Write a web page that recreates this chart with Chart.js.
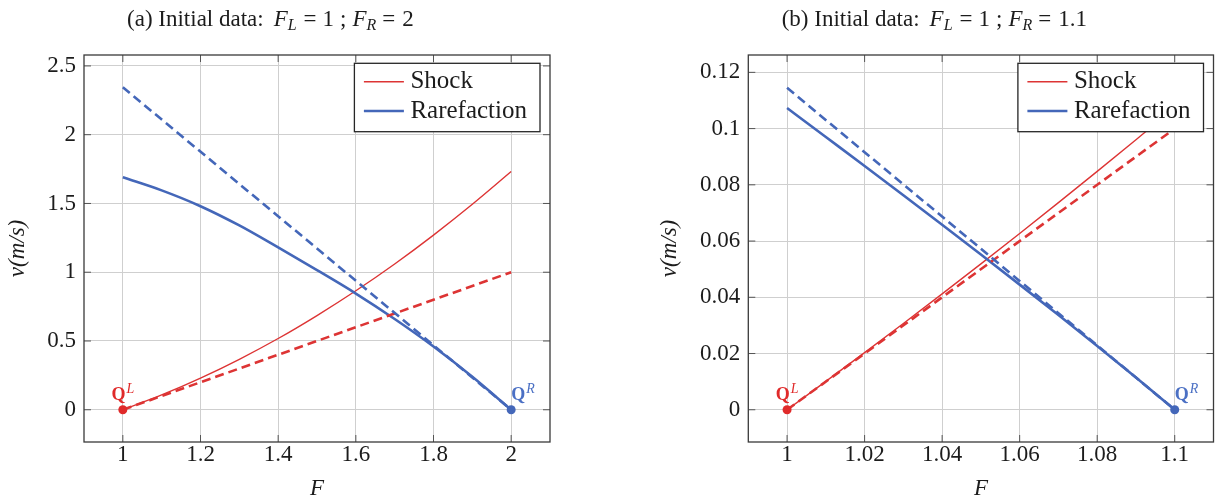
<!DOCTYPE html>
<html><head><meta charset="utf-8">
<script src="https://cdn.jsdelivr.net/npm/chart.js@4.4.1/dist/chart.umd.min.js"></script>
<style>
html,body{margin:0;padding:0;background:#fff;overflow:hidden;width:1218px;height:495px}
.w{position:absolute;top:0;width:609px;height:495px}
#wa{left:0}
#wb{left:609px}
canvas{display:block}
</style></head><body>
<div class="w" id="wa"><canvas id="ca" width="609" height="495" style="width:609px;height:495px"></canvas></div>
<div class="w" id="wb"><canvas id="cb" width="609" height="495" style="width:609px;height:495px"></canvas></div>
<script>
// ---------- Panel (a): F_L = 1 ; F_R = 2 ----------
const aF        = [1.0, 1.1, 1.2, 1.3, 1.4, 1.5, 1.6, 1.7, 1.8, 1.9, 2.0];
const aShock    = [0, 0.1075, 0.230, 0.367, 0.518, 0.685, 0.865, 1.060, 1.270, 1.494, 1.732];
const aRare     = [1.69, 1.595, 1.48, 1.34, 1.18, 1.015, 0.845, 0.66, 0.46, 0.24, 0];
const aTanF     = [1, 2];
const aShockTan = [0, 1.0];
const aRareTan  = [2.345, 0];
const aXTicks   = [1, 1.2, 1.4, 1.6, 1.8, 2];
const aXLabels  = ['1', '1.2', '1.4', '1.6', '1.8', '2'];
const aYTicks   = [0, 0.5, 1, 1.5, 2, 2.5];
const aYLabels  = ['0', '0.5', '1', '1.5', '2', '2.5'];

// ---------- Panel (b): F_L = 1 ; F_R = 1.1 ----------
const bF        = [1.00, 1.01, 1.02, 1.03, 1.04, 1.05, 1.06, 1.07, 1.08, 1.09, 1.10];
const bShock    = [0, 0.01008, 0.02030, 0.03067, 0.04120, 0.05187, 0.06269, 0.07366, 0.08479, 0.09605, 0.1075];
const bRare     = [0.1073, 0.0970, 0.0867, 0.0763, 0.0658, 0.0552, 0.0445, 0.0337, 0.0227, 0.0115, 0];
const bTanF     = [1, 1.1];
const bShockTan = [0, 0.1];
const bRareTan  = [0.1145, 0];
const bXTicks   = [1, 1.02, 1.04, 1.06, 1.08, 1.1];
const bXLabels  = ['1', '1.02', '1.04', '1.06', '1.08', '1.1'];
const bYTicks   = [0, 0.02, 0.04, 0.06, 0.08, 0.1, 0.12];
const bYLabels  = ['0', '0.02', '0.04', '0.06', '0.08', '0.1', '0.12'];

const RED = '#dd3434', BLUE = '#4467b9', QRED = '#e02a2a', QBLUE = '#4b70c4';
const TXT = '#1c1c1c', GRID = '#cfcfcf';
const SERIF = "'Liberation Serif', 'Times New Roman', serif";

function xy(xs, ys) { return xs.map((x, i) => ({x: x, y: ys[i]})); }

function drawRich(ctx, pieces, x, y, align) {
  let total = 0;
  pieces.forEach(p => { ctx.font = p.f; p.w = ctx.measureText(p.t).width; total += (p.g || 0) + p.w; });
  let cx = align === 'center' ? x - total / 2 : x;
  ctx.textAlign = 'left'; ctx.textBaseline = 'alphabetic';
  pieces.forEach(p => {
    cx += (p.g || 0);
    ctx.font = p.f;
    if (p.c) ctx.fillStyle = p.c;
    ctx.fillText(p.t, cx, y + (p.dy || 0));
    cx += p.w;
  });
}

function makeDecor(P) {
  return {
    id: 'decor',
    afterDatasetsDraw(chart) {
      const ctx = chart.ctx, a = chart.chartArea, xs = chart.scales.x, ys = chart.scales.y;
      ctx.save();
      ctx.strokeStyle = '#555'; ctx.lineWidth = 1;
      ctx.beginPath();
      xs.ticks.forEach(t => {
        const px = xs.getPixelForValue(t.value);
        ctx.moveTo(px, a.bottom); ctx.lineTo(px, a.bottom - 7);
        ctx.moveTo(px, a.top); ctx.lineTo(px, a.top + 7);
      });
      ys.ticks.forEach(t => {
        const py = ys.getPixelForValue(t.value);
        ctx.moveTo(a.left, py); ctx.lineTo(a.left + 7, py);
        ctx.moveTo(a.right, py); ctx.lineTo(a.right - 7, py);
      });
      ctx.stroke();
      ctx.strokeStyle = '#3a3a3a'; ctx.lineWidth = 1.3;
      ctx.strokeRect(a.left, a.top, a.right - a.left, a.bottom - a.top);
      ctx.restore();
    },
    afterDraw(chart) {
      const ctx = chart.ctx, a = chart.chartArea, xs = chart.scales.x, ys = chart.scales.y;
      ctx.save();
      // legend box
      const entries = chart.data.datasets.filter(d => d.legendEntry);
      ctx.font = '25px ' + SERIF;
      const tw = Math.max.apply(null, entries.map(e => ctx.measureText(e.label).width));
      const bw = 56 + tw + 13, bh = 68.4;
      const bx = a.right - 10 - bw, by = a.top + 8.3;
      ctx.fillStyle = '#fff'; ctx.fillRect(bx, by, bw, bh);
      ctx.strokeStyle = '#262626'; ctx.lineWidth = 1.3; ctx.strokeRect(bx, by, bw, bh);
      entries.forEach((e, i) => {
        const cy = by + 18.4 + i * 29.3;
        ctx.strokeStyle = e.borderColor; ctx.lineWidth = e.borderWidth;
        ctx.beginPath(); ctx.moveTo(bx + 9.5, cy); ctx.lineTo(bx + 49.5, cy); ctx.stroke();
        ctx.fillStyle = TXT; ctx.font = '25px ' + SERIF; ctx.textAlign = 'left'; ctx.textBaseline = 'middle';
        ctx.fillText(e.label, bx + 56, cy);
      });
      // panel title
      ctx.fillStyle = TXT;
      const R = '23px ' + SERIF, I = 'italic 23px ' + SERIF, S = 'italic 16px ' + SERIF;
      drawRich(ctx, [
        {t: P.prefix, f: R},
        {t: 'F', f: I, g: 10}, {t: 'L', f: S, dy: 4},
        {t: '=', f: R, g: 7}, {t: P.FL, f: R, g: 6},
        {t: ';', f: R, g: 6},
        {t: 'F', f: I, g: 6}, {t: 'R', f: S, dy: 4},
        {t: '=', f: R, g: 6}, {t: P.FR, f: R, g: 7}
      ], (a.left + a.right) / 2 - 46.6, 26, 'center');
      // point labels
      const QB = 'bold 18px ' + SERIF, QS = 'italic 14px ' + SERIF;
      const lx = xs.getPixelForValue(P.F[0]), ly = ys.getPixelForValue(P.shock[0]);
      drawRich(ctx, [{t: 'Q', f: QB, c: QRED}, {t: 'L', f: QS, dy: -7.4, g: 1}], lx, ly - 9.3, 'center');
      const n = P.F.length - 1;
      const rx = xs.getPixelForValue(P.F[n]), ry = ys.getPixelForValue(P.rare[n]);
      drawRich(ctx, [{t: 'Q', f: QB, c: QBLUE}, {t: 'R', f: QS, dy: -7.4, g: 1}], rx, ry - 9.3, 'left');
      ctx.restore();
    }
  };
}

function buildPanel(id, P) {
  return new Chart(document.getElementById(id), {
    type: 'line',
    data: { datasets: [
      { label: 'Shock', data: xy(P.F, P.shock), borderColor: RED, borderWidth: 1.4, pointRadius: 0,
        cubicInterpolationMode: 'monotone', fill: false, order: 5, legendEntry: true },
      { label: 'Rarefaction', data: xy(P.F, P.rare), borderColor: BLUE, borderWidth: 2.6, pointRadius: 0,
        cubicInterpolationMode: 'monotone', fill: false, order: 4, legendEntry: true },
      { label: 'Shock (linearised)', data: xy(P.tanF, P.shockTan), borderColor: RED, borderWidth: 2.6,
        borderDash: [9, 5], pointRadius: 0, fill: false, order: 3 },
      { label: 'Rarefaction (linearised)', data: xy(P.tanF, P.rareTan), borderColor: BLUE, borderWidth: 2.6,
        borderDash: [9, 5], pointRadius: 0, fill: false, order: 2 },
      { label: 'QL', data: [{x: P.F[0], y: P.shock[0]}], showLine: false, pointRadius: 4.5,
        pointBackgroundColor: QRED, pointBorderColor: QRED, pointBorderWidth: 0, order: 1 },
      { label: 'QR', data: [{x: P.F[P.F.length - 1], y: P.rare[P.rare.length - 1]}], showLine: false, pointRadius: 4.5,
        pointBackgroundColor: BLUE, pointBorderColor: BLUE, pointBorderWidth: 0, order: 0 }
    ]},
    options: {
      responsive: false, animation: false, devicePixelRatio: 1,
      layout: { padding: { left: P.padL, right: P.padR, top: 55, bottom: 0 } },
      plugins: { legend: { display: false }, tooltip: { enabled: false } },
      scales: {
        x: {
          type: 'linear', min: P.xMin, max: P.xMax,
          afterBuildTicks: s => { s.ticks = P.xTicks.map(v => ({value: v})); },
          afterFit: s => { s.height = 53; },
          ticks: { autoSkip: false, maxRotation: 0, minRotation: 0, padding: 1, color: TXT,
                   font: { family: SERIF, size: 23, lineHeight: 1 },
                   callback: (v, i) => P.xLabels[i] },
          grid: { color: GRID, lineWidth: 1, drawTicks: false },
          border: { display: false },
          title: { display: true, text: 'F', color: TXT,
                   font: { family: SERIF, size: 23, style: 'italic', lineHeight: 0.5 }, padding: 0 }
        },
        y: {
          type: 'linear', min: P.yMin, max: P.yMax,
          afterBuildTicks: s => { s.ticks = P.yTicks.map(v => ({value: v})); },
          afterFit: s => { s.width = P.yAxisW; },
          ticks: { autoSkip: false, padding: 8, color: TXT,
                   font: { family: SERIF, size: 23, lineHeight: 1 },
                   callback: (v, i) => P.yLabels[i] },
          grid: { color: GRID, lineWidth: 1, drawTicks: false },
          border: { display: false },
          title: { display: true, text: 'v(m/s)', color: TXT,
                   font: { family: SERIF, size: 23, style: 'italic', lineHeight: 1.2 },
                   padding: { top: 4, bottom: 0 } }
        }
      }
    },
    plugins: [makeDecor(P)]
  });
}

buildPanel('ca', {
  F: aF, shock: aShock, rare: aRare, tanF: aTanF, shockTan: aShockTan, rareTan: aRareTan,
  xTicks: aXTicks, xLabels: aXLabels, yTicks: aYTicks, yLabels: aYLabels,
  xMin: 0.9, xMax: 2.1, yMin: -0.2345, yMax: 2.5795,
  padL: 0, padR: 59, yAxisW: 84,
  prefix: '(a) Initial data:', FL: '1', FR: '2'
});
buildPanel('cb', {
  F: bF, shock: bShock, rare: bRare, tanF: bTanF, shockTan: bShockTan, rareTan: bRareTan,
  xTicks: bXTicks, xLabels: bXLabels, yTicks: bYTicks, yLabels: bYLabels,
  xMin: 0.99, xMax: 1.11, yMin: -0.01147, yMax: 0.12617,
  padL: 43, padR: 3, yAxisW: 96.3,
  prefix: '(b) Initial data:', FL: '1', FR: '1.1'
});
</script>
</body></html>
